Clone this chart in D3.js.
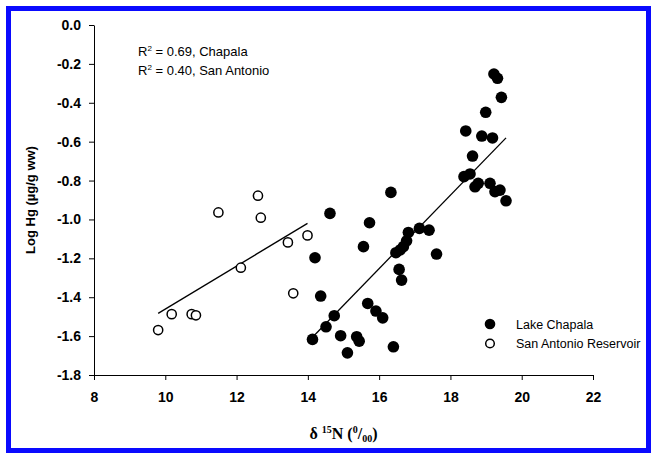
<!DOCTYPE html>
<html>
<head>
<meta charset="utf-8">
<script src="https://cdn.jsdelivr.net/npm/d3@7"></script>
<style>
  html, body { margin: 0; padding: 0; background: #fff; }
  svg { display: block; }
</style>
</head>
<body>
<svg id="chart" width="652" height="453"></svg>
<script>
// ---- data ----
const chapalaX = [14.13, 14.20, 14.36, 14.51, 14.62, 14.74, 14.92, 15.11, 15.37, 15.44,
                  15.56, 15.68, 15.73, 15.91, 16.10, 16.33, 16.40, 16.47, 16.56, 16.59,
                  16.63, 16.68, 16.77, 16.82, 17.13, 17.40, 17.61, 18.38, 18.43, 18.55,
                  18.62, 18.69, 18.78, 18.88, 18.99, 19.11, 19.18, 19.22, 19.25, 19.32,
                  19.39, 19.43, 19.56];
const chapalaY = [-1.617, -1.197, -1.394, -1.552, -0.969, -1.495, -1.598, -1.686, -1.603, -1.626,
                  -1.140, -1.432, -1.017, -1.471, -1.506, -0.861, -1.655, -1.171, -1.257, -1.157,
                  -1.312, -1.140, -1.110, -1.067, -1.046, -1.055, -1.178, -0.780, -0.545, -0.766,
                  -0.674, -0.832, -0.814, -0.571, -0.449, -0.814, -0.581, -0.252, -0.857, -0.274,
                  -0.849, -0.372, -0.904];
const sanAntonioX = [9.80, 10.18, 10.74, 10.86, 11.49, 12.12, 12.60, 12.68, 13.44, 13.59, 13.99];
const sanAntonioY = [-1.569, -1.487, -1.487, -1.493, -0.964, -1.248, -0.878, -0.991, -1.118, -1.380, -1.082];
const xTicks = [8, 10, 12, 14, 16, 18, 20, 22];
const yTicks = [0.0, -0.2, -0.4, -0.6, -0.8, -1.0, -1.2, -1.4, -1.6, -1.8];
const seriesNames = ["Lake Chapala", "San Antonio Reservoir"];
const r2Labels = [["0.69", "Chapala"], ["0.40", "San Antonio"]];

// ---- chart ----
const svg = d3.select("#chart");
const W = 652, H = 453;

// blue frame
svg.append("rect").attr("x", 0).attr("y", 0).attr("width", W).attr("height", H).attr("fill", "#fff");
svg.append("rect")
  .attr("x", 8.5).attr("y", 8.5).attr("width", W - 12).attr("height", H - 11)
  .attr("fill", "none").attr("stroke", "#0a0aff").attr("stroke-width", 5);

const x = d3.scaleLinear().domain([8, 22]).range([94, 593]);
const y = d3.scaleLinear().domain([-1.8, 0]).range([375, 25]);

const tickFont = "'Liberation Sans', Arial, sans-serif";

const gx = svg.append("g").attr("transform", `translate(0,${y(-1.8)})`)
  .call(d3.axisBottom(x).tickValues(xTicks).tickSize(5).tickSizeOuter(0).tickPadding(12)
    .tickFormat(d => String(d)));
const gy = svg.append("g").attr("transform", `translate(${x(8)},0)`)
  .call(d3.axisLeft(y).tickValues(yTicks).tickSize(5).tickSizeOuter(0).tickPadding(8)
    .tickFormat(d => d.toFixed(1)));

[gx, gy].forEach(g => {
  g.selectAll("path.domain").attr("stroke", "#000").attr("stroke-width", 1);
  g.selectAll(".tick line").attr("stroke", "#000").attr("stroke-width", 1);
  g.selectAll(".tick text").attr("fill", "#000")
    .style("font-family", tickFont).style("font-weight", "bold").style("font-size", "14px");
});

// regression lines
function fit(xs, ys) {
  const mx = d3.mean(xs), my = d3.mean(ys);
  let sxy = 0, sxx = 0;
  xs.forEach((v, i) => { sxy += (v - mx) * (ys[i] - my); sxx += (v - mx) * (v - mx); });
  const b = sxy / sxx, a = my - b * mx;
  const x0 = d3.min(xs), x1 = d3.max(xs);
  return [[x0, a + b * x0], [x1, a + b * x1]];
}
const line = d3.line().x(d => x(d[0])).y(d => y(d[1]));
[[chapalaX, chapalaY], [sanAntonioX, sanAntonioY]].forEach(([xs, ys]) => {
  svg.append("path").attr("d", line(fit(xs, ys)))
    .attr("fill", "none").attr("stroke", "#000").attr("stroke-width", 1.3);
});

// points
const chap = chapalaX.map((v, i) => [v, chapalaY[i]]);
const sa = sanAntonioX.map((v, i) => [v, sanAntonioY[i]]);
svg.append("g").selectAll("circle").data(sa).join("circle")
  .attr("cx", d => x(d[0])).attr("cy", d => y(d[1])).attr("r", 4.6)
  .attr("fill", "#fff").attr("stroke", "#000").attr("stroke-width", 1.5);
svg.append("g").selectAll("circle").data(chap).join("circle")
  .attr("cx", d => x(d[0])).attr("cy", d => y(d[1])).attr("r", 5.8)
  .attr("fill", "#000");

// R^2 annotations
const ann = svg.append("g").style("font-family", tickFont).style("font-size", "13px");
r2Labels.forEach((r, i) => {
  const t = ann.append("text").attr("x", 138).attr("y", 56 + i * 19).attr("fill", "#000");
  t.append("tspan").text("R");
  t.append("tspan").attr("dy", -5).style("font-size", "8px").text("2");
  t.append("tspan").attr("dy", 5).text(` = ${r[0]}, ${r[1]}`);
});

// legend
const leg = svg.append("g").style("font-family", tickFont).style("font-size", "12.5px");
seriesNames.forEach((name, i) => {
  const cy = 324 + i * 19.5;
  if (i === 0) {
    leg.append("circle").attr("cx", 490).attr("cy", cy).attr("r", 5.3).attr("fill", "#000");
  } else {
    leg.append("circle").attr("cx", 490).attr("cy", cy).attr("r", 4.3)
      .attr("fill", "#fff").attr("stroke", "#000").attr("stroke-width", 1.5);
  }
  leg.append("text").attr("x", 516).attr("y", cy + 4.5).attr("fill", "#000").text(name);
});

// y axis title
svg.append("text")
  .attr("transform", `translate(35,${(y(0) + y(-1.8)) / 2}) rotate(-90)`)
  .attr("text-anchor", "middle")
  .style("font-family", tickFont).style("font-weight", "bold").style("font-size", "13px")
  .attr("fill", "#000")
  .text("Log Hg (\u00B5g/g ww)");

// x axis title
const xt = svg.append("text")
  .attr("x", (x(8) + x(22)) / 2).attr("y", 439).attr("text-anchor", "middle")
  .style("font-family", "'Liberation Serif', 'Times New Roman', serif")
  .style("font-size", "16px").style("font-weight", "bold").attr("fill", "#000");
xt.append("tspan").text("\u03B4 ");
xt.append("tspan").attr("dy", -6).style("font-size", "10px").text("15");
xt.append("tspan").attr("dy", 6).text("N (");
xt.append("tspan").attr("dy", -6).style("font-size", "10px").text("0");
xt.append("tspan").attr("dy", 6).text("/");
xt.append("tspan").attr("dy", 3).style("font-size", "10px").text("00");
xt.append("tspan").attr("dy", -3).text(")");
</script>
</body>
</html>
